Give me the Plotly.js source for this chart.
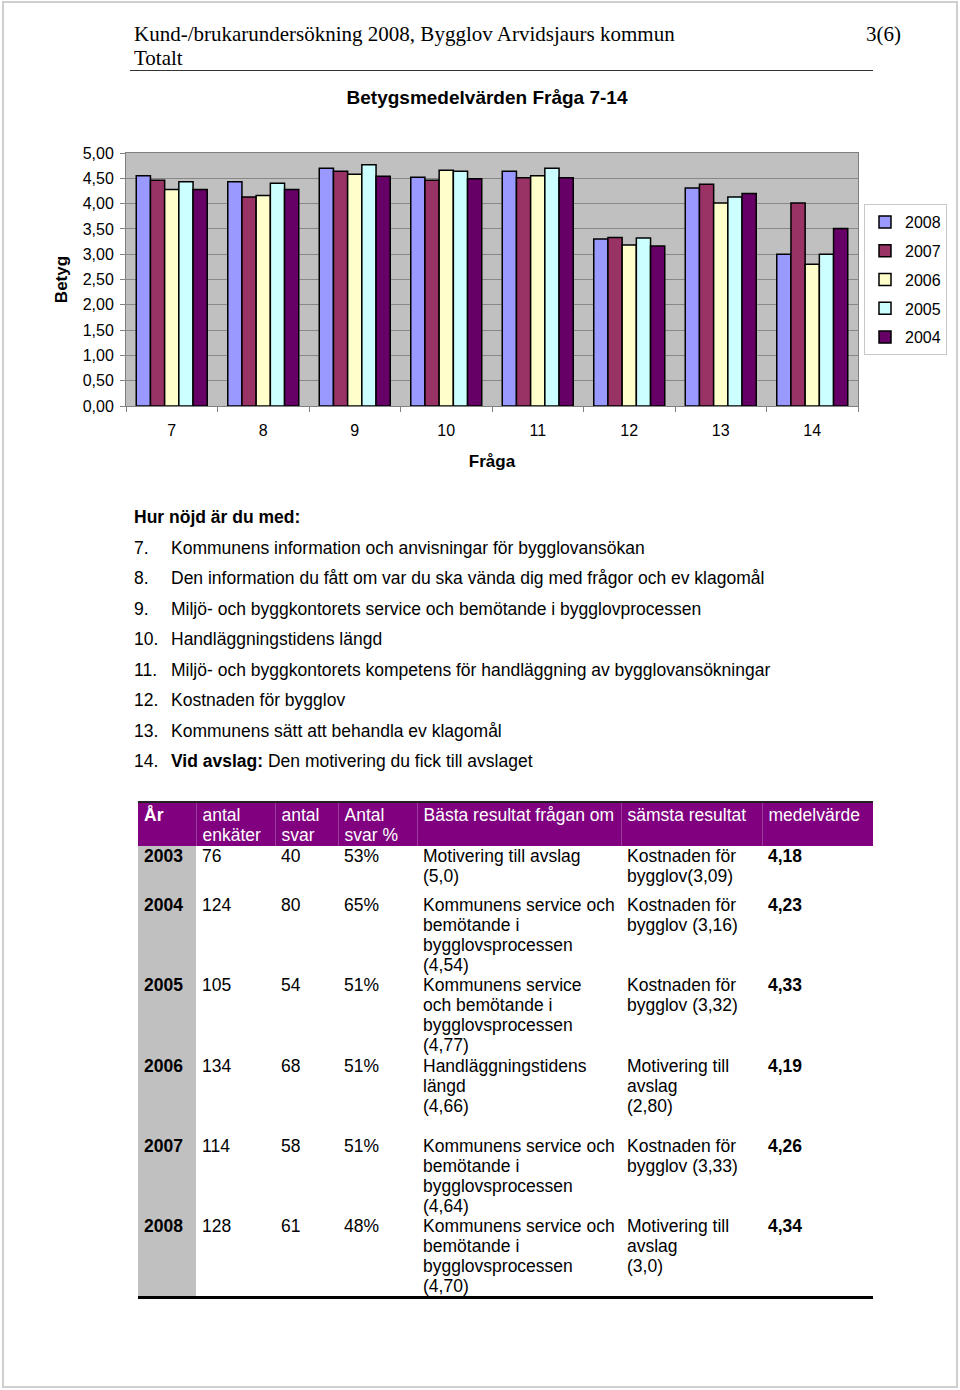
<!DOCTYPE html>
<html>
<head>
<meta charset="utf-8">
<script src="https://cdn.plot.ly/plotly-3.0.1.min.js"></script>
<style>
  html, body { margin:0; padding:0; background:#fff; }
  body { width:960px; height:1390px; position:relative; overflow:hidden; font-family: Arial, "Liberation Sans", Helvetica, sans-serif; color:#000; }
  #frame { position:absolute; left:2px; top:1px; width:952px; height:1383px; border:2px solid #cfcfcf; }
  .serif { font-family: "Times New Roman", "Liberation Serif", serif; font-size:21px; line-height:24px; position:absolute; white-space:nowrap; }
  #rule { position:absolute; left:130px; top:70px; width:743px; height:0; border-top:1.5px solid #333; }
  #chart { position:absolute; left:0; top:0; width:960px; height:480px; }
  .li { position:absolute; font-size:17.5px; line-height:20px; white-space:nowrap; }
  .li .n { position:absolute; left:0; }
  .li .t { position:absolute; left:37px; }
  table { position:absolute; left:138px; top:801px; border-collapse:collapse; table-layout:fixed; font-size:17.5px; line-height:20px; }
  td { padding:0 0 0 6px; vertical-align:top; white-space:nowrap; overflow:visible; }
  thead td { background:#800080; color:#fff; padding-top:2px; height:41px; border-left:1px solid #9a3a9a; }
  thead tr { border-top:2px solid #222; }
  thead td:first-child { border-left:none; }
  tbody td.yr { background:#c0c0c0; font-weight:bold; }
  td.mv { font-weight:bold; }
  tbody tr:last-child td { border-bottom:3px solid #000; }
</style>
</head>
<body>
<div id="frame"></div>
<div class="serif" style="left:134px; top:22px;">Kund-/brukarundersökning 2008, Bygglov Arvidsjaurs kommun</div>
<div class="serif" style="right:59px; top:22px;">3(6)</div>
<div class="serif" style="left:134px; top:46px;">Totalt</div>
<div id="rule"></div>
<div id="chart"></div>
<div id="list"></div>
<div id="tbl"></div>
<script>
// ---- Chart data ----
const questions = ['7', '8', '9', '10', '11', '12', '13', '14'];
const years = ['2008', '2007', '2006', '2005', '2004'];
const v2008 = [4.55, 4.43, 4.70, 4.52, 4.64, 3.30, 4.31, 3.00];
const v2007 = [4.46, 4.13, 4.64, 4.46, 4.51, 3.33, 4.38, 4.01];
const v2006 = [4.28, 4.16, 4.58, 4.66, 4.55, 3.18, 4.01, 2.80];
const v2005 = [4.43, 4.40, 4.77, 4.64, 4.70, 3.32, 4.13, 3.00];
const v2004 = [4.28, 4.28, 4.54, 4.49, 4.51, 3.16, 4.20, 3.51];
const seriesValues = [v2008, v2007, v2006, v2005, v2004];
const seriesColors = ['#9999FF', '#993366', '#FFFFCC', '#CCFFFF', '#660066'];
const yTickVals = [0, 0.5, 1, 1.5, 2, 2.5, 3, 3.5, 4, 4.5, 5];

// ---- Text data ----
const listHeading = 'Hur nöjd är du med:';
const listNumbers = ['7.', '8.', '9.', '10.', '11.', '12.', '13.', '14.'];
const listTexts = [
  'Kommunens information och anvisningar för bygglovansökan',
  'Den information du fått om var du ska vända dig med frågor och ev klagomål',
  'Miljö- och byggkontorets service och bemötande i bygglovprocessen',
  'Handläggningstidens längd',
  'Miljö- och byggkontorets kompetens för handläggning av bygglovansökningar',
  'Kostnaden för bygglov',
  'Kommunens sätt att behandla ev klagomål',
  '<b>Vid avslag:</b> Den motivering du fick till avslaget'
];
const tableHeaders = ['<b>År</b>', 'antal<br>enkäter', 'antal<br>svar', 'Antal<br>svar %', 'Bästa resultat frågan om', 'sämsta resultat', 'medelvärde'];
const tableYears = ['2003', '2004', '2005', '2006', '2007', '2008'];
const tableEnkater = ['76', '124', '105', '134', '114', '128'];
const tableSvar = ['40', '80', '54', '68', '58', '61'];
const tableSvarPct = ['53%', '65%', '51%', '51%', '51%', '48%'];
const tableBest = [
  'Motivering till avslag<br>(5,0)',
  'Kommunens service och<br>bemötande i<br>bygglovsprocessen<br>(4,54)',
  'Kommunens service<br>och bemötande i<br>bygglovsprocessen<br>(4,77)',
  'Handläggningstidens<br>längd<br>(4,66)',
  'Kommunens service och<br>bemötande i<br>bygglovsprocessen<br>(4,64)',
  'Kommunens service och<br>bemötande i<br>bygglovsprocessen<br>(4,70)'
];
const tableWorst = [
  'Kostnaden för<br>bygglov(3,09)',
  'Kostnaden för<br>bygglov (3,16)',
  'Kostnaden för<br>bygglov (3,32)',
  'Motivering till<br>avslag<br>(2,80)',
  'Kostnaden för<br>bygglov (3,33)',
  'Motivering till<br>avslag<br>(3,0)'
];
const tableMean = ['4,18', '4,23', '4,33', '4,19', '4,26', '4,34'];

// ---- Plotly chart ----
const traces = years.map((yr, i) => ({
  type: 'bar',
  name: yr,
  x: questions,
  y: seriesValues[i],
  legendgroup: 'g' + yr,
  marker: { color: seriesColors[i], line: { color: '#000', width: 1.5 } },
  hoverinfo: 'skip'
}));

const layout = {
  width: 960, height: 480,
  margin: { l: 126, r: 102, t: 153, b: 74 },
  paper_bgcolor: 'rgba(0,0,0,0)',
  plot_bgcolor: '#C0C0C0',
  separators: ', ',
  font: { family: 'Arial, "Liberation Sans", sans-serif', size: 16, color: '#000' },
  title: {
    text: '<b>Betygsmedelvärden Fråga 7-14</b>',
    font: { size: 19, color: '#000' },
    x: 487 / 960, xanchor: 'center', xref: 'container',
    y: 1 - 97 / 480, yanchor: 'middle', yref: 'container'
  },
  barmode: 'group',
  bargap: 0.224,
  bargroupgap: 0,
  xaxis: {
    type: 'category',
    showline: true, linecolor: '#808080', linewidth: 1, mirror: true,
    ticks: 'outside', tickson: 'boundaries', ticklen: 5, tickcolor: '#808080',
    ticklabelstandoff: 10,
    showgrid: false,
    tickfont: { size: 16 },
    title: { text: '<b>Fråga</b>', font: { size: 17 }, standoff: 16 }
  },
  yaxis: {
    range: [0, 5], tickvals: yTickVals, tickformat: '.2f',
    showline: true, linecolor: '#808080', linewidth: 1, mirror: true,
    ticks: 'outside', ticklen: 5, tickcolor: '#808080',
    ticklabelstandoff: 3,
    gridcolor: '#888888', gridwidth: 1,
    zeroline: false,
    tickfont: { size: 16 },
    title: { text: '<b>Betyg</b>', font: { size: 17 }, standoff: 10 }
  },
  showlegend: true,
  legend: {
    x: (864 - 126) / 732, xanchor: 'left',
    y: (406 - 204) / 253, yanchor: 'top',
    bgcolor: '#fff', bordercolor: '#c8c8c8', borderwidth: 1,
    traceorder: 'grouped', tracegroupgap: 5,
    itemwidth: 30,
    font: { size: 16 }
  }
};
Plotly.newPlot('chart', traces, layout, { staticPlot: true, displayModeBar: false });

// ---- List ----
const list = document.getElementById('list');
let html = '<div class="li" style="left:134px; top:507px;"><b>' + listHeading + '</b></div>';
listTexts.forEach((t, i) => {
  const top = 538 + i * 30.45;
  html += '<div class="li" style="left:134px; top:' + top + 'px;"><span class="n">' + listNumbers[i] + '</span><span class="t">' + t + '</span></div>';
});
list.innerHTML = html;

// ---- Table ----
const colWidths = [58, 79, 63, 79, 204, 141, 111];
const rowHeights = [49, 80, 81, 80, 80, 81];
let th = '<table><colgroup>' + colWidths.map(w => '<col style="width:' + w + 'px">').join('') + '</colgroup>';
th += '<thead><tr>' + tableHeaders.map(h => '<td>' + h + '</td>').join('') + '</tr></thead><tbody>';
tableYears.forEach((yr, i) => {
  th += '<tr style="height:' + rowHeights[i] + 'px">' +
    '<td class="yr">' + yr + '</td>' +
    '<td>' + tableEnkater[i] + '</td>' +
    '<td>' + tableSvar[i] + '</td>' +
    '<td>' + tableSvarPct[i] + '</td>' +
    '<td>' + tableBest[i] + '</td>' +
    '<td>' + tableWorst[i] + '</td>' +
    '<td class="mv">' + tableMean[i] + '</td></tr>';
});
th += '</tbody></table>';
document.getElementById('tbl').innerHTML = th;
</script>
</body>
</html>
